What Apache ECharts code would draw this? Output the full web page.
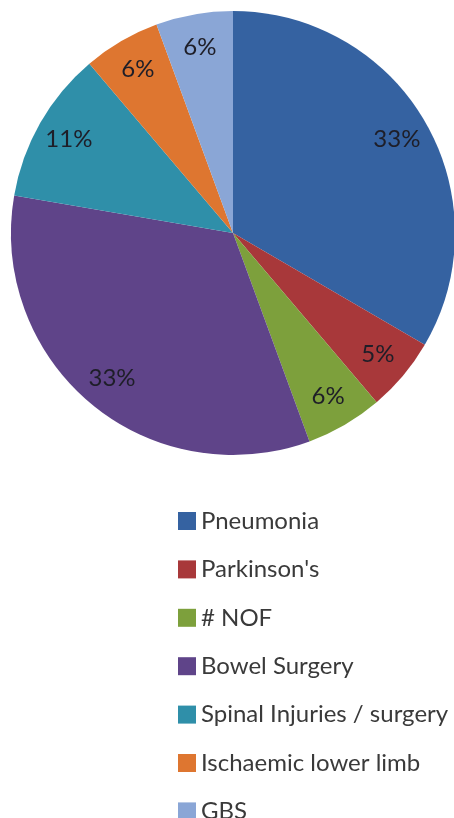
<!DOCTYPE html>
<html>
<head>
<meta charset="utf-8">
<script src="https://cdn.jsdelivr.net/npm/echarts@6/dist/echarts.min.js"></script>
<style>
html,body{margin:0;padding:0;background:#fff;}
#chart{width:454px;height:818px;}
</style>
</head>
<body>
<div id="chart"></div>
<script>
const categories = ["Pneumonia", "Parkinson's", "# NOF", "Bowel Surgery", "Spinal Injuries / surgery", "Ischaemic lower limb", "GBS"];
const values = [33.4, 5.4, 5.6, 33.3, 11.1, 5.6, 5.6];
const colors = ["#3562A1", "#A8383A", "#7DA03C", "#5F4489", "#2F8FA9", "#DE7630", "#8AA6D6"];

const pieData = categories.map((n, i) => ({ name: n, value: values[i], itemStyle: { color: colors[i] } }));

const chart = echarts.init(document.getElementById('chart'));
chart.setOption({
  animation: false,
  legend: {
    orient: 'vertical',
    left: 173,
    top: 504,
    height: 320,
    itemWidth: 18,
    itemHeight: 18,
    itemGap: 24.4,
    icon: 'rect',
    data: categories,
    textStyle: { fontFamily: 'Lato', fontSize: 24, color: '#3a3a3a', padding: [0, 0, 0, 0] }
  },
  series: [
    {
      type: 'pie',
      center: [233, 233],
      radius: [0, 222],
      startAngle: 90,
      clockwise: true,
      data: pieData,
      label: { show: false },
      labelLine: { show: false },
      silent: true
    },
    {
      type: 'pie',
      center: [233, 233],
      radius: [150, 222],
      startAngle: 90,
      clockwise: true,
      data: pieData.map(d => ({ name: d.name, value: d.value, itemStyle: { color: 'rgba(0,0,0,0)' } })),
      percentPrecision: 0,
      label: {
        show: true,
        position: 'inside',
        formatter: '{d}%',
        fontFamily: 'Lato',
        fontSize: 24,
        color: '#1e1e28'
      },
      labelLine: { show: false },
      silent: true,
      legendHoverLink: false
    }
  ]
});
</script>
</body>
</html>
